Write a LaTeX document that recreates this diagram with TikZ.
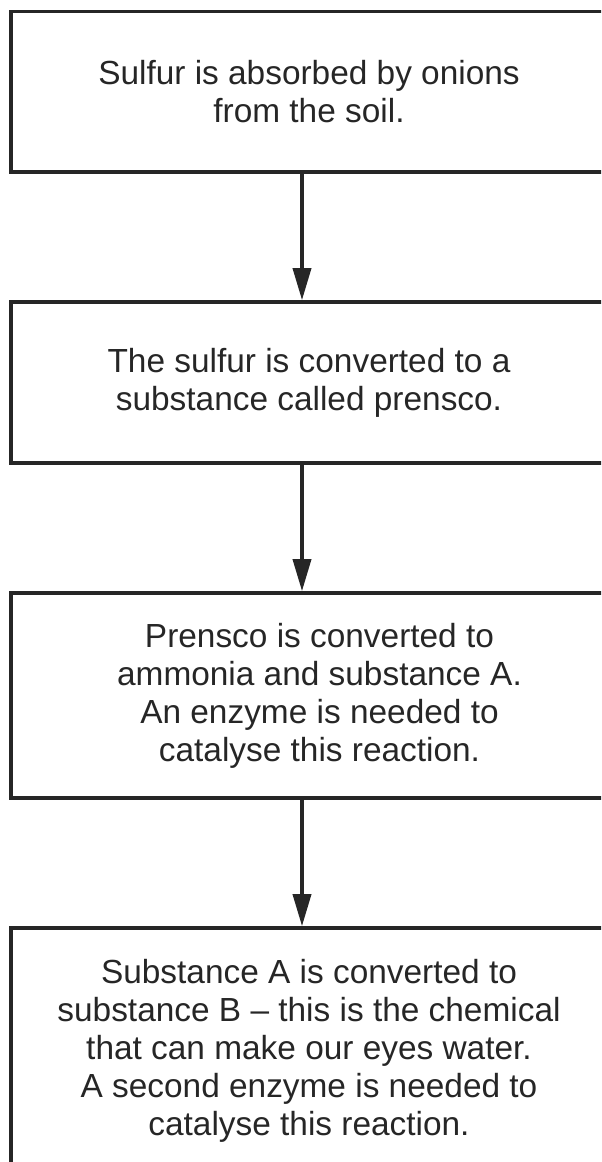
\documentclass[tikz,border=0pt]{standalone}
\usepackage{fontspec}
\setmainfont{Liberation Sans}
\usetikzlibrary{arrows.meta,positioning}

\begin{document}
\begin{tikzpicture}[>={Triangle[length=16pt,width=9pt]},node distance=63.2pt,
    stage/.style={draw=black!85,line width=1.8pt,minimum width=298pt,align=center,
        font=\fontsize{16.7pt}{19pt}\selectfont,text=black!85}]
    \useasboundingbox (0,0) rectangle (300.5pt,-581pt);
    \clip (0,0) rectangle (300.5pt,-581pt);

    \coordinate (spine) at (151pt,0);

    \node [stage,minimum height=80.25pt,anchor=north west] (soil) at (4.6pt,-4.85pt) {Sulfur is absorbed by onions\\from the soil.};
    \node [stage,minimum height=80.5pt] (prensco) [below=of soil.south west,anchor=north west] {The sulfur is converted to a\\substance called prensco.};
    \node [stage,minimum height=102.5pt,minimum width=308.5pt] (ammonia) [below=of prensco.south west,anchor=north west] {Prensco is converted to\\ammonia and substance A.\\An enzyme is needed to\\catalyse this reaction.};
    \node [stage,minimum height=123pt] (subB) [below=of ammonia.south west,anchor=north west] {Substance A is converted to\\substance B -- this is the chemical\\that can make our eyes water.\\A second enzyme is needed to\\catalyse this reaction.};

    \draw[->,line width=1.8pt,draw=black!85] (soil.south -| spine) -- (prensco.north -| spine);
    \draw[->,line width=1.8pt,draw=black!85] (prensco.south -| spine) -- (ammonia.north -| spine);
    \draw[->,line width=1.8pt,draw=black!85] (ammonia.south -| spine) -- (subB.north -| spine);

\end{tikzpicture}
\end{document}
